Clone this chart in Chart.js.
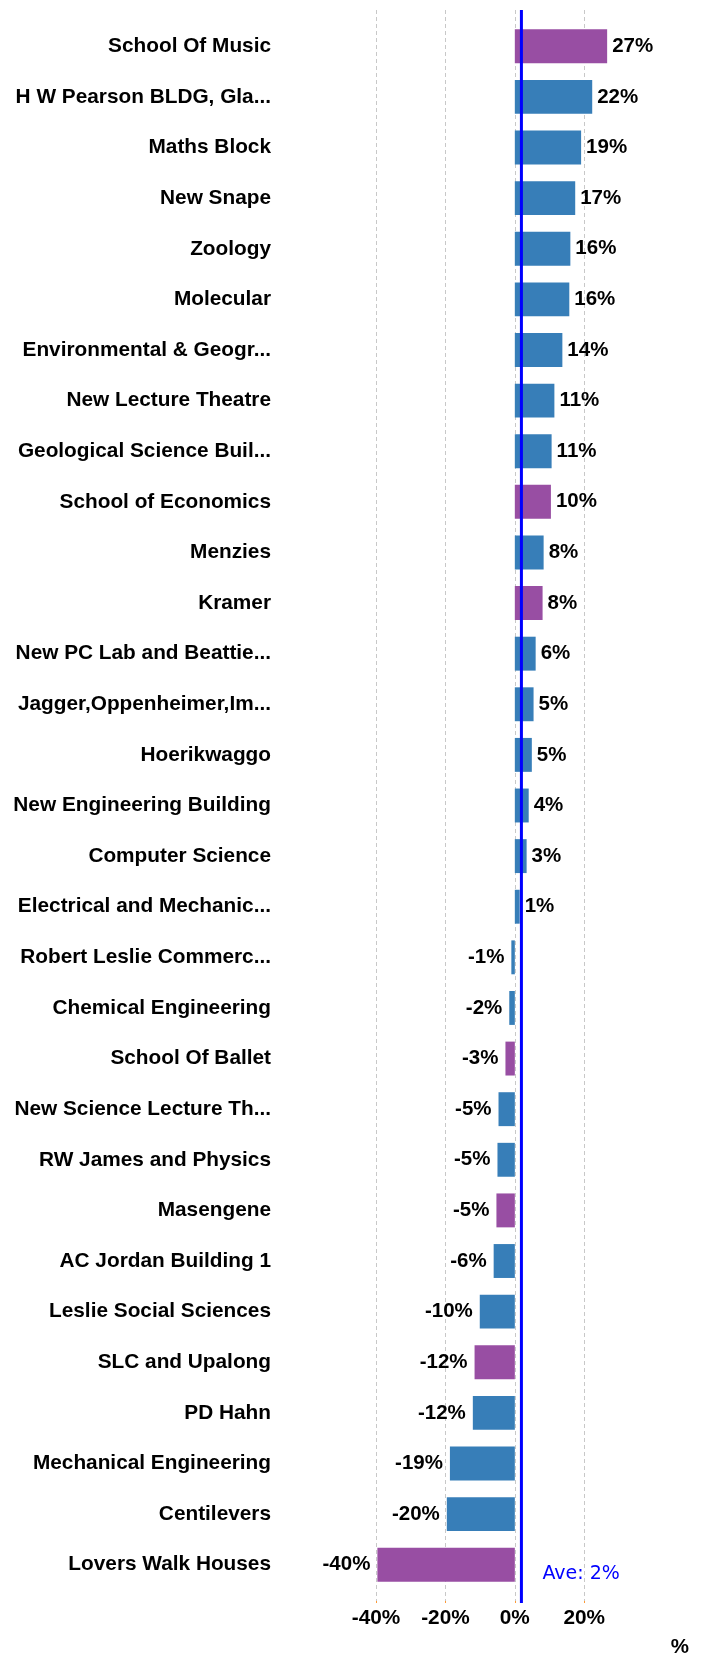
<!DOCTYPE html>
<html>
<head>
<meta charset="utf-8">
<script src="https://cdn.jsdelivr.net/npm/chart.js@4.4.0/dist/chart.umd.min.js"></script>
<style>
  html, body { margin: 0; padding: 0; background: #fff; }
  #chart { display: block; }
</style>
</head>
<body>
<canvas id="chart" width="702" height="1657"></canvas>
<script>
const buildings = [
    'School Of Music', 'H W Pearson BLDG, Gla...', 'Maths Block', 'New Snape', 'Zoology',
    'Molecular', 'Environmental & Geogr...', 'New Lecture Theatre', 'Geological Science Buil...',
    'School of Economics', 'Menzies', 'Kramer', 'New PC Lab and Beattie...',
    'Jagger,Oppenheimer,Im...', 'Hoerikwaggo', 'New Engineering Building', 'Computer Science',
    'Electrical and Mechanic...', 'Robert Leslie Commerc...', 'Chemical Engineering',
    'School Of Ballet', 'New Science Lecture Th...', 'RW James and Physics', 'Masengene',
    'AC Jordan Building 1', 'Leslie Social Sciences', 'SLC and Upalong', 'PD Hahn',
    'Mechanical Engineering', 'Centilevers', 'Lovers Walk Houses'
];
const changes = [
    26.6, 22.3, 19.1, 17.4, 16.0,
    15.7, 13.7, 11.4, 10.6,
    10.4, 8.3, 8.0, 6.0,
    5.4, 4.9, 4.0, 3.4,
    1.4, -1.0, -1.6,
    -2.7, -4.7, -5.0, -5.3,
    -6.1, -10.1, -11.6, -12.1,
    -18.7, -19.6, -39.6
];
const highlighted = [
    'School Of Music', 'School of Economics', 'Kramer', 'School Of Ballet',
    'Masengene', 'SLC and Upalong', 'Lovers Walk Houses'
];
const xTicks = [-40, -20, 0, 20];
const average = 1.9;
const averageLabel = 'Ave: 2%';
const axisTitle = '%';

const BLUE = '#377eb8';
const PURPLE = '#984ea3';
const labelFont = '"Liberation Sans", Arial, sans-serif';

// grid lines, data labels and the average marker
const extras = {
    id: 'extras',
    beforeDatasetsDraw(chart) {
        const { ctx, chartArea } = chart;
        const x = chart.scales.x;
        ctx.save();
        ctx.strokeStyle = '#c8c8c8';
        ctx.lineWidth = 1;
        ctx.setLineDash([4, 3]);
        x.ticks.forEach(t => {
            const px = Math.round(x.getPixelForValue(t.value)) + 0.5;
            ctx.beginPath();
            ctx.moveTo(px, chartArea.top - 11);
            ctx.lineTo(px, chartArea.bottom + 11);
            ctx.stroke();
        });
        ctx.setLineDash([]);
        ctx.strokeStyle = '#ff9933';
        x.ticks.forEach(t => {
            const px = Math.round(x.getPixelForValue(t.value)) + 0.5;
            ctx.beginPath();
            ctx.moveTo(px, chartArea.bottom + 11);
            ctx.lineTo(px, chartArea.bottom + 13);
            ctx.stroke();
        });
        ctx.restore();
    },
    afterDatasetsDraw(chart) {
        const { ctx, chartArea } = chart;
        const x = chart.scales.x;
        const meta = chart.getDatasetMeta(0);
        ctx.save();
        ctx.font = 'bold 20.5px ' + labelFont;
        ctx.fillStyle = '#000';
        ctx.textBaseline = 'middle';
        meta.data.forEach((bar, i) => {
            const v = changes[i];
            const txt = Math.round(v) + '%';
            if (v >= 0) {
                ctx.textAlign = 'left';
                ctx.fillText(txt, bar.x + 5, bar.y);
            } else {
                ctx.textAlign = 'right';
                ctx.fillText(txt, bar.x - 7, bar.y);
            }
        });

        const ax = x.getPixelForValue(average);
        ctx.strokeStyle = '#0000ff';
        ctx.lineWidth = 3;
        ctx.beginPath();
        ctx.moveTo(ax, chartArea.top - 11);
        ctx.lineTo(ax, chartArea.bottom + 13);
        ctx.stroke();

        ctx.font = '19px "DejaVu Sans", sans-serif';
        ctx.fillStyle = '#0000ff';
        ctx.textAlign = 'left';
        ctx.fillText(averageLabel, ax + 21, chartArea.bottom - 16);

        ctx.font = 'bold 20.5px ' + labelFont;
        ctx.fillStyle = '#000';
        ctx.textAlign = 'right';
        ctx.fillText(axisTitle, chart.width - 13, chart.height - 10);
        ctx.restore();
    }
};

new Chart(document.getElementById('chart'), {
    type: 'bar',
    data: {
        labels: buildings,
        datasets: [{
            data: changes,
            backgroundColor: buildings.map(b => highlighted.includes(b) ? PURPLE : BLUE),
            borderWidth: 0,
            barPercentage: 0.67,
            categoryPercentage: 1
        }]
    },
    options: {
        indexAxis: 'y',
        responsive: false,
        animation: false,
        devicePixelRatio: 1,
        layout: { padding: { top: 21, left: 0, right: 90, bottom: 0 } },
        plugins: {
            legend: { display: false },
            tooltip: { enabled: false }
        },
        scales: {
            x: {
                min: -40,
                max: 28,
                afterBuildTicks: scale => { scale.ticks = xTicks.map(v => ({ value: v })); },
                afterFit: scale => { scale.height = 67; },
                grid: { display: false, drawTicks: true, tickLength: 8 },
                border: { display: false },
                ticks: {
                    padding: 8,
                    color: '#000',
                    font: { family: labelFont, size: 20.8, weight: 'bold' },
                    callback: v => v + '%'
                }
            },
            y: {
                afterFit: scale => { scale.width = 376; },
                grid: { display: false, drawTicks: true, tickLength: 105 },
                border: { display: false },
                ticks: {
                    padding: 0,
                    color: '#000',
                    autoSkip: false,
                    font: { family: labelFont, size: 20.8, weight: 'bold' }
                }
            }
        }
    },
    plugins: [extras]
});
</script>
</body>
</html>
